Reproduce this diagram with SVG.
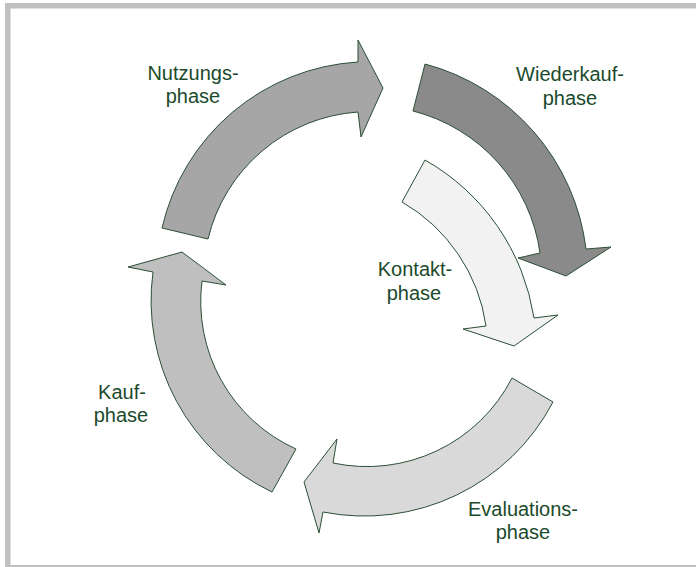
<svg xmlns="http://www.w3.org/2000/svg" width="696" height="567" viewBox="0 0 696 567">
<style>
.arrow{stroke:#2a4f35;stroke-width:1;stroke-linejoin:miter}
.lbl{font-family:"Liberation Sans",Arial,sans-serif;font-size:20px;fill:#1b4a2c;text-anchor:middle}
</style>
<rect x="0" y="0" width="696" height="567" fill="#ffffff"/>
<rect id="frame" x="7.75" y="5.75" width="700" height="562" fill="none" stroke="#c0c0c0" stroke-width="5.5"/>
<g id="connectors"></g>
<g id="nutzungsphase">
<path class="arrow" fill="#a6a6a6" d="M162,228 A214,214 0 0 1 358,62 L358,40 L383,88 L361,137 L358,112 A166,166 0 0 0 208,239 Z"/>
<text class="lbl" x="193" y="80">Nutzungs-</text>
<text class="lbl" x="193" y="103">phase</text>
</g>
<g id="wiederkaufphase">
<path class="arrow" fill="#8a8a8a" d="M425,64 A219,219 0 0 1 586,249 L611,247 L566,276 L518,258 L540,253 A171,171 0 0 0 413,111 Z"/>
<text class="lbl" x="570" y="81">Wiederkauf-</text>
<text class="lbl" x="570" y="105">phase</text>
</g>
<g id="kontaktphase">
<path class="arrow" fill="#f2f2f2" d="M425,160 A220,220 0 0 1 534,318 L558,315 L514,346 L463,329 L486,326 A171,171 0 0 0 402,202 Z"/>
<text class="lbl" x="415" y="276">Kontakt-</text>
<text class="lbl" x="414" y="300">phase</text>
</g>
<g id="evaluationsphase">
<path class="arrow" fill="#d9d9d9" d="M553,402 A213,213 0 0 1 323,512 L319,533 L304,482 L337,439 L333,463 A163,163 0 0 0 512,378 Z"/>
<text class="lbl" x="523" y="516">Evaluations-</text>
<text class="lbl" x="523" y="539">phase</text>
</g>
<g id="kaufphase">
<path class="arrow" fill="#bfbfbf" d="M272,492 A212,212 0 0 1 153,272 L128,267 L182,252 L226,285 L202,281 A162,162 0 0 0 296,449 Z"/>
<text class="lbl" x="122" y="399">Kauf-</text>
<text class="lbl" x="121" y="422">phase</text>
</g>
</svg>
